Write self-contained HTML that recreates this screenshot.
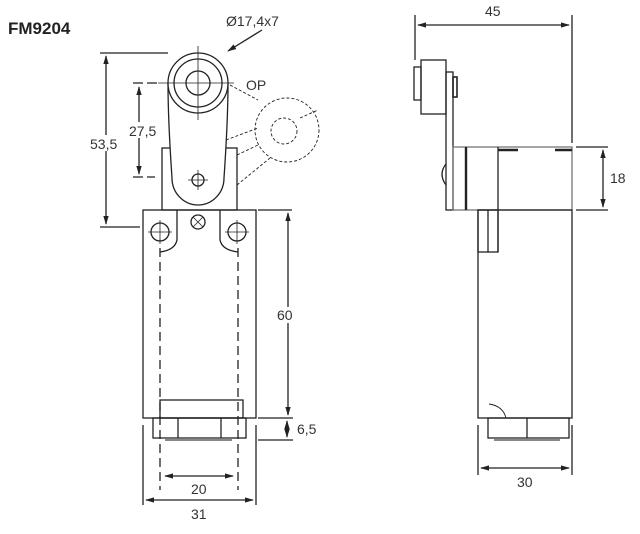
<!DOCTYPE html>
<html><head><style>body{margin:0;background:#fff}svg{display:block}</style></head><body>
<svg width="640" height="534" viewBox="0 0 640 534" xmlns="http://www.w3.org/2000/svg" font-family="Liberation Sans, sans-serif">
<defs>
<marker id="a" viewBox="0 0 10 10" refX="9" refY="5" markerWidth="7" markerHeight="7" orient="auto-start-reverse"><path d="M0,2L10,5L0,8z" fill="#222"/></marker>
</defs>
<text x="8" y="34" font-size="17" font-weight="bold" fill="#222">FM9204</text>
<g stroke="#222" fill="none" stroke-width="1.3">
<!-- front view -->
<rect x="143" y="210" width="113" height="208"/>
<rect x="160" y="400" width="83" height="18"/>
<rect x="153" y="418" width="93" height="20"/>
<line x1="178" y1="418" x2="178" y2="438"/><line x1="221" y1="418" x2="221" y2="438"/>
<line x1="165" y1="440" x2="232" y2="440" stroke="#888" stroke-width="2"/>
<line x1="160" y1="248" x2="160" y2="490" stroke-dasharray="9,5"/>
<line x1="238" y1="248" x2="238" y2="490" stroke-dasharray="9,5"/>
<path d="M177,210V240Q175,250 160,252M220,210V240Q222,250 238,252"/>
<circle cx="160" cy="232" r="9"/><circle cx="237" cy="232" r="9"/>
<path d="M148,232h24M160,220v24M225,232h24M237,220v24" stroke-width="0.8"/>
<circle cx="198" cy="222" r="7"/><path d="M193,217l10,10M203,217l-10,10" stroke-width="0.8"/>
<rect x="162" y="148" width="75" height="62"/>
<path d="M168,83 Q168,120 172,178 A26,27 0 0 0 224,178 Q228,120 228,83" fill="#fff"/>
<circle cx="198" cy="83" r="30" fill="#fff"/>
<circle cx="198" cy="83" r="24"/>
<circle cx="198" cy="83" r="12"/>
<path d="M198,46v74M158,83h76" stroke-width="0.8"/>
<circle cx="198" cy="180" r="6"/><path d="M188,180h20M198,170v20" stroke-width="0.8"/>
<g stroke-dasharray="3,2" stroke-width="0.9">
<circle cx="287" cy="130" r="32"/><circle cx="284" cy="131" r="13"/>
<line x1="230" y1="85" x2="258" y2="100"/>
<line x1="226" y1="140" x2="258" y2="128"/>
<line x1="237" y1="155" x2="258" y2="145"/>
<line x1="237" y1="185" x2="270" y2="158"/>
<line x1="300" y1="118" x2="318" y2="110"/>
</g>
<path d="M133,83h10M147,83h12M133,177h22" stroke-dasharray="10,4"/>
<line x1="100" y1="53" x2="168" y2="53"/><line x1="100" y1="227" x2="140" y2="227"/>
<line x1="106" y1="56" x2="106" y2="224" marker-start="url(#a)" marker-end="url(#a)"/>
<line x1="139" y1="87" x2="139" y2="174" marker-start="url(#a)" marker-end="url(#a)"/>
<line x1="258" y1="210" x2="292" y2="210"/>
<line x1="288" y1="213" x2="288" y2="415" marker-start="url(#a)" marker-end="url(#a)"/>
<line x1="258" y1="418" x2="293" y2="418"/><line x1="258" y1="440" x2="293" y2="440"/>
<line x1="287" y1="421" x2="287" y2="437" marker-start="url(#a)" marker-end="url(#a)"/>
<line x1="165" y1="476" x2="233" y2="476" marker-start="url(#a)" marker-end="url(#a)"/>
<line x1="143" y1="425" x2="143" y2="505"/><line x1="256" y1="425" x2="256" y2="505"/>
<line x1="146" y1="500" x2="253" y2="500" marker-start="url(#a)" marker-end="url(#a)"/>
<line x1="262" y1="30" x2="228" y2="51" marker-end="url(#a)"/>
<!-- side view -->
<line x1="415" y1="15" x2="415" y2="60"/><line x1="572" y1="15" x2="572" y2="143"/>
<line x1="418" y1="25" x2="569" y2="25" marker-start="url(#a)" marker-end="url(#a)"/>
<rect x="421" y="60" width="25" height="54"/>
<rect x="414" y="67" width="7" height="33"/>
<rect x="446" y="72" width="7" height="138"/>
<rect x="453" y="77" width="4" height="20" stroke-width="1.6"/>
<path d="M446,164 Q438,174 446,185"/>
<rect x="453" y="147" width="119" height="63" stroke="#777"/>
<line x1="466" y1="147" x2="466" y2="210" stroke-width="2.4"/>
<line x1="498" y1="147" x2="498" y2="252"/>
<path d="M498,150h20M555,150h17" stroke-width="2.5"/>
<rect x="478" y="210" width="20" height="42"/><line x1="488" y1="210" x2="488" y2="252"/>
<rect x="478" y="210" width="94" height="208"/>
<rect x="488" y="418" width="81" height="20"/><line x1="527" y1="418" x2="527" y2="438"/>
<line x1="494" y1="440" x2="560" y2="440" stroke="#888" stroke-width="2"/>
<path d="M489,404 Q503,406 506,418" stroke-width="0.9"/>
<line x1="478" y1="425" x2="478" y2="475"/><line x1="572" y1="425" x2="572" y2="475"/>
<line x1="481" y1="468" x2="569" y2="468" marker-start="url(#a)" marker-end="url(#a)"/>
<line x1="576" y1="147" x2="608" y2="147"/><line x1="576" y1="210" x2="608" y2="210"/>
<line x1="603" y1="150" x2="603" y2="207" marker-start="url(#a)" marker-end="url(#a)"/>
</g>
<g fill="#fff">
<rect x="89" y="135" width="34" height="16"/>
<rect x="128" y="122" width="30" height="16"/>
<rect x="275" y="307" width="22" height="16"/>
</g>
<g font-size="14" fill="#333">
<text x="226" y="26">Ø17,4x7</text>
<text x="246" y="90">OP</text>
<text x="90" y="149">53,5</text>
<text x="129" y="136">27,5</text>
<text x="277" y="320">60</text>
<text x="297" y="434">6,5</text>
<text x="191" y="494">20</text>
<text x="191" y="519">31</text>
<text x="485" y="16">45</text>
<text x="610" y="183">18</text>
<text x="517" y="487">30</text>
</g>
</svg>
</body></html>
